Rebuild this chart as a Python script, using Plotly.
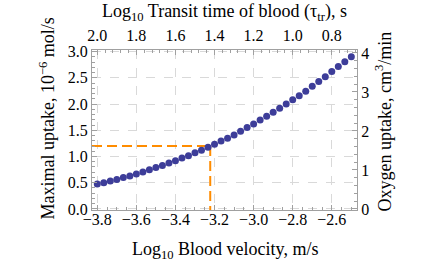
import plotly.graph_objects as go

# Data
log_velocity = [-3.8, -3.7667, -3.7333, -3.7, -3.6667, -3.6333, -3.6, -3.5667, -3.5333, -3.5,
                -3.4667, -3.4333, -3.4, -3.3667, -3.3333, -3.3, -3.2667, -3.2333, -3.2, -3.1667,
                -3.1333, -3.1, -3.0667, -3.0333, -3.0, -2.9667, -2.9333, -2.9, -2.8667, -2.8333,
                -2.8, -2.7667, -2.7333, -2.7, -2.6667, -2.6333, -2.6, -2.5667, -2.5333, -2.5]
max_uptake = [0.475, 0.50, 0.53, 0.56, 0.60, 0.63, 0.665, 0.705, 0.745, 0.79,
              0.83, 0.875, 0.92, 0.97, 1.015, 1.07, 1.12, 1.175, 1.233, 1.295,
              1.35, 1.41, 1.48, 1.555, 1.62, 1.695, 1.767, 1.843, 1.92, 2.0,
              2.085, 2.16, 2.245, 2.34, 2.43, 2.52, 2.62, 2.715, 2.81, 2.905]
marker_x = [-3.222]
marker_y = [1.2]

x_ticks = [-3.8, -3.6, -3.4, -3.2, -3.0, -2.8, -2.6]
x_tick_text = ["\u22123.8", "\u22123.6", "\u22123.4", "\u22123.2", "\u22123.0", "\u22122.8", "\u22122.6"]
top_ticks = [2.0, 1.8, 1.6, 1.4, 1.2, 1.0, 0.8]
y_ticks = [0.0, 0.5, 1.0, 1.5, 2.0, 2.5, 3.0]
y2_ticks = [0, 1, 2, 3, 4]

log_length = -1.8          # log10 transit time = log_length - log10 velocity
mol_per_cm3min = 0.744     # 1 cm^3/min O2 in 10^-6 mol/s

x_range = [-3.827, -2.471]
y_range = [-0.021, 3.032]

FONT = "Liberation Serif"
FRAME = "#a0a0a0"
GRID = "#d9d9d9"
ORANGE = "#ff8c00"
BLUE = "#3d3d99"

fig = go.Figure()

# orange guide lines
fig.add_trace(go.Scatter(x=[x_range[0], marker_x[0]], y=[marker_y[0], marker_y[0]],
                         mode="lines", line=dict(color=ORANGE, width=2, dash="10px,5px"),
                         showlegend=False, hoverinfo="skip"))
fig.add_trace(go.Scatter(x=[marker_x[0], marker_x[0]], y=[marker_y[0], y_range[0]],
                         mode="lines", line=dict(color=ORANGE, width=2, dash="10px,5px"),
                         showlegend=False, hoverinfo="skip"))

fig.add_trace(go.Scatter(x=log_velocity, y=max_uptake, mode="markers",
                         marker=dict(color=BLUE, size=7), showlegend=False))

# invisible traces to activate secondary axes
fig.add_trace(go.Scatter(x=[log_length - v for v in log_velocity[:1]], y=[0],
                         xaxis="x2", yaxis="y", mode="markers", marker=dict(opacity=0),
                         showlegend=False, hoverinfo="skip"))
fig.add_trace(go.Scatter(x=log_velocity[:1], y=[0], xaxis="x", yaxis="y2",
                         mode="markers", marker=dict(opacity=0),
                         showlegend=False, hoverinfo="skip"))

tickfont = dict(family=FONT, size=16, color="black")
common = dict(showline=True, linecolor=FRAME, linewidth=1, ticks="inside",
              ticklen=5, tickcolor=FRAME, tickfont=tickfont, zeroline=False)

TF = dict(family=FONT, size=18, color="black")

fig.update_layout(
    width=435, height=261,
    margin=dict(l=92, r=78, t=50, b=51),
    paper_bgcolor="white", plot_bgcolor="white",
    font=dict(family=FONT, color="black"),
    xaxis=dict(range=x_range, tickvals=x_ticks, ticktext=x_tick_text,
               showgrid=True, gridcolor=GRID, griddash="dash", gridwidth=1,
               ticklabelstandoff=-5,
               minor=dict(dtick=0.05, tick0=-3.8, ticklen=3, tickcolor=FRAME, ticks="inside",
                          showgrid=False),
               **common),
    xaxis2=dict(range=[log_length - x_range[0], log_length - x_range[1]],
                overlaying="x", side="top", tickvals=top_ticks,
                ticktext=[f"{t:.1f}" for t in top_ticks], showgrid=False,
                ticklabelstandoff=2,
                minor=dict(dtick=0.04, tick0=2.0, ticklen=3, tickcolor=FRAME, ticks="inside"),
                **common),
    yaxis=dict(range=y_range, tickvals=y_ticks, ticktext=[f"{t:.1f}" for t in y_ticks],
               showgrid=True, gridcolor=GRID, griddash="dash", gridwidth=1,
               minor=dict(dtick=0.1, tick0=0, ticklen=3, tickcolor=FRAME, ticks="inside",
                          showgrid=False),
               **common),
    yaxis2=dict(range=[y_range[0] / mol_per_cm3min, y_range[1] / mol_per_cm3min],
                overlaying="y", side="right", tickvals=y2_ticks,
                ticktext=[str(t) for t in y2_ticks], showgrid=False,
                minor=dict(dtick=0.2, tick0=0, ticklen=3, tickcolor=FRAME, ticks="inside"),
                **common),
    annotations=[
        dict(text="Log<sub>10</sub> Blood velocity, m/s", xref="paper", yref="paper",
             x=0.5, y=-0.255, xanchor="center", yanchor="middle", showarrow=False,
             font=TF),
        dict(text="Log<sub>10</sub> Transit time of blood (\u03c4<sub>tr</sub>), s",
             xref="paper", yref="paper", x=0.5, y=1.235, xanchor="center",
             yanchor="middle", showarrow=False, font=TF),
        dict(text="Maximal uptake, 10<sup>\u22126</sup> mol/s", xref="paper", yref="paper",
             x=-0.167, y=0.57, xanchor="center", yanchor="middle", textangle=-90,
             showarrow=False, font=TF),
        dict(text="Oxygen uptake, cm<sup>3</sup>/min", xref="paper", yref="paper",
             x=1.1, y=0.55, xanchor="center", yanchor="middle", textangle=-90,
             showarrow=False, font=TF),
    ],
)

fig.write_html("out.html", config={"displayModeBar": False},
               post_script="document.body.style.margin='0';")
